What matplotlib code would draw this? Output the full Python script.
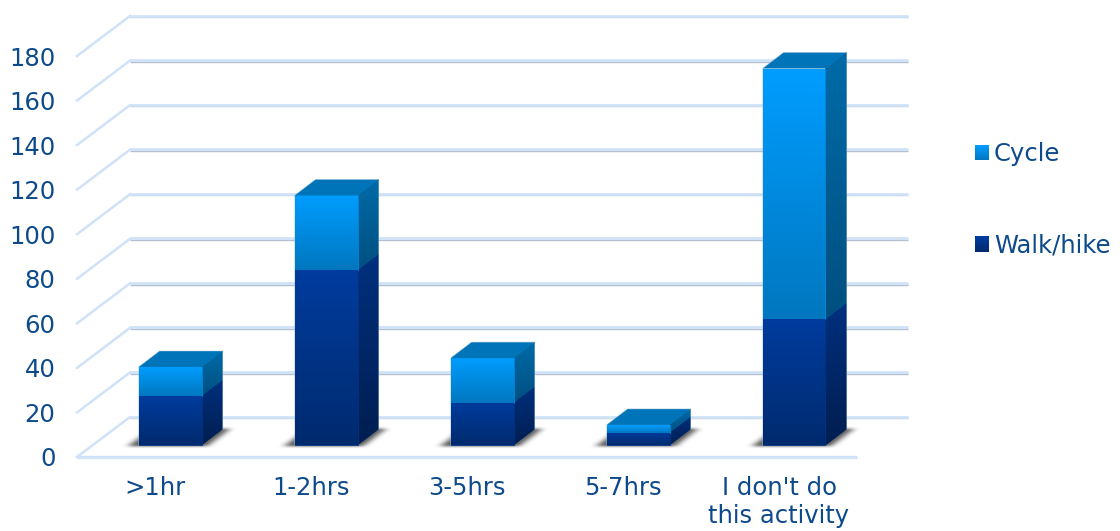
import numpy as np
import matplotlib
matplotlib.use("Agg")
import matplotlib.pyplot as plt
from matplotlib.patches import Polygon, Rectangle, Patch
from matplotlib.colors import LinearSegmentedColormap
from matplotlib.legend_handler import HandlerBase

categories = [">1hr", "1-2hrs", "3-5hrs", "5-7hrs", "I don't do\nthis activity"]
walk = [22, 78.5, 19, 5.5, 56.5]
cycle = [13, 33.5, 20, 3.5, 112.5]
y_ticks = list(range(0, 200, 20))

TEXT = "#0d4a8c"
W, H = 1120, 531
fig = plt.figure(figsize=(W / 100, H / 100), dpi=100, facecolor="white")
plt.rcParams["font.family"] = "DejaVu Sans"
# front plane of the chart box: x 77..857 px, y 457..56 px
ax = fig.add_axes([77 / W, 1 - 457 / H, 780 / W, 401 / H])
ax.patch.set_alpha(0)
for s in ax.spines.values():
    s.set_visible(False)

PX_X = 5 / 780          # one pixel in category units
PX_Y = 180 / 401        # one pixel in value units


def off(dx, dy):
    """Pixel offset (right, up) in data units."""
    return dx * PX_X, dy * PX_Y


def set_limits():
    ax.set_xlim(-0.5, 4.5)
    ax.set_ylim(0, 180)


set_limits()
ax.set_xticks(range(5), categories)
ax.set_yticks(y_ticks)
ax.tick_params(axis="both", length=0, labelsize=17.5, labelcolor=TEXT)
ax.tick_params(axis="x", pad=14)
ax.tick_params(axis="y", pad=15.5)
for t in ax.get_xticklabels():
    t.set_linespacing(1.2)

# walls and floor
wx, wy = off(53, 40)
GRID = "#cfe2f7"
x0, x1 = -0.5, 4.5
for v in y_ticks:
    ax.plot([x0 + wx, x1 + off(51, 0)[0]], [v + wy - 0.55] * 2, color="#b4bfd0", lw=1.0, zorder=1,
            solid_capstyle="butt", clip_on=False)
    ax.plot([x0 + wx, x1 + off(51, 0)[0]], [v + wy + 0.2] * 2, color=GRID, lw=2.0, zorder=1.1,
            solid_capstyle="butt", clip_on=False)
    ax.plot([x0, x0 + wx], [v, v + wy], color=GRID, lw=1.8, zorder=1.2, clip_on=False)
ax.plot([x0, x1], [0, 0], color=GRID, lw=2.4, zorder=1.2, clip_on=False, solid_capstyle="butt")


def gradient(poly, top, bottom, z):
    """Fill a polygon with a vertical gradient."""
    poly = np.asarray(poly)
    cmap = LinearSegmentedColormap.from_list("g", [bottom, top])
    ax.add_patch(Polygon(poly, closed=True, fc=cmap(0.5), ec=cmap(0.5), lw=0.5, zorder=z - 0.1, clip_on=False))
    xa, xb, ya, yb = poly[:, 0].min(), poly[:, 0].max(), poly[:, 1].min(), poly[:, 1].max()
    im = ax.imshow(np.linspace(0, 1, 128).reshape(-1, 1), origin="lower", cmap=cmap,
                   extent=[xa, xb, ya, yb], aspect="auto", zorder=z, interpolation="bilinear")
    im.set_clip_path(Polygon(poly, transform=ax.transData))
    set_limits()


def blur(arr, n, axis):
    kernel = np.ones(n) / n
    for _ in range(2):
        arr = np.apply_along_axis(lambda m: np.convolve(m, kernel, mode="same"), axis, arr)
    return arr


def shadow(l, r, base):
    """Blurred floor shadow below and behind one bar, in pixel offsets from its base."""
    w = (r - l) / PX_X
    xs = np.arange(-40, w + 70)
    ys = np.arange(-12, 36)
    X, Y = np.meshgrid(xs, ys)
    mask = (X >= -9 + 1.3 * Y) & (X <= w + 7 + 1.3 * Y) & (Y >= -1) & (Y <= 16)
    a = blur(blur(mask.astype(float), 9, 1), 3, 0)
    rgba = np.zeros(a.shape + (4,))
    rgba[..., :3] = 0.22
    rgba[..., 3] = a * 0.85
    im = ax.imshow(rgba, origin="lower", aspect="auto", zorder=2, interpolation="bilinear",
                   extent=[l + xs[0] * PX_X, l + xs[-1] * PX_X, base + ys[0] * PX_Y, base + ys[-1] * PX_Y])
    im.set_clip_on(False)
    set_limits()


halfw = 31.5 * PX_X
bx, by = off(15, 12)      # bar plane sits this far behind the front plane
dx, dy = off(21, 16)      # bar depth
for i, (a, b) in enumerate(zip(walk, cycle)):
    l, r = i - halfw + bx, i + halfw + bx
    base = by
    shadow(l, r, base)
    segs = [(base, base + a, "#003c9e", "#002a6e", "#00307e", "#001e50"),
            (base + a, base + a + b, "#009dff", "#0077bf", "#006ba8", "#004f80")]
    for y0, y1, ft, fb, st, sb in segs:
        gradient(np.array([(r, y0), (r + dx, y0 + dy), (r + dx, y1 + dy), (r, y1)]), st, sb, 4)
        gradient(np.array([(l, y0), (r, y0), (r, y1), (l, y1)]), ft, fb, 4.2)
    top = base + a + b
    ax.add_patch(Polygon([(l, top), (r, top), (r + dx, top + dy), (l + dx, top + dy)], closed=True,
                         fc="#0074b8", ec="none", zorder=4.5, clip_on=False))
    ax.plot([l, l, l + dx, r + dx, r + dx], [base, top, top + dy, top + dy, base + dy],
            color="#9fc0dc", lw=0.6, zorder=4.6, alpha=0.5, clip_on=False)


class GradHandler(HandlerBase):
    def __init__(self, top, bottom):
        super().__init__()
        self.top, self.bottom = top, bottom

    def create_artists(self, legend, orig, xd, yd, width, height, fontsize, trans):
        cmap = LinearSegmentedColormap.from_list("h", [self.bottom, self.top])
        n = 14
        return [Rectangle((-xd, -yd + height * j / n), width, height / n + 0.2, fc=cmap(j / (n - 1)),
                          ec="none", transform=trans) for j in range(n)]


h_cycle = Patch(label="Cycle")
h_walk = Patch(label="Walk/hike")
fig.legend(handles=[h_cycle, h_walk], labels=["Cycle", "Walk/hike"],
           handler_map={h_cycle: GradHandler("#009dff", "#0077bf"), h_walk: GradHandler("#003c9e", "#002a6e")},
           loc="center left", bbox_to_anchor=(975 / W, 1 - 200 / H), frameon=False, fontsize=17.5, labelcolor=TEXT,
           handlelength=0.58, handleheight=0.58, handletextpad=0.2, labelspacing=2.78, borderpad=0, borderaxespad=0)

fig.savefig("out.png", dpi=100, facecolor="white")
